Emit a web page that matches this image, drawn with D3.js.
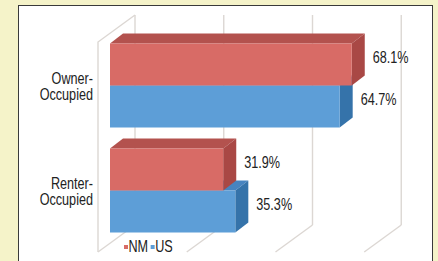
<!DOCTYPE html>
<html lang="en">
<head>
  <meta charset="utf-8"/>
  <title>Owner vs Renter Occupied - NM and US</title>
  <script src="https://d3js.org/d3.v7.min.js"></script>
  <style>
    html, body { margin: 0; padding: 0; background: #f5f3c9; }
    svg { display: block; }
    text { font-family: "Liberation Sans", Arial, sans-serif; fill: #222; }
  </style>
</head>
<body>
<svg id="chart" width="438" height="261"></svg>
<script>
  // chart data
  const categories = ["Owner-Occupied", "Renter-Occupied"];
  const categoryLines = [["Owner-", "Occupied"], ["Renter-", "Occupied"]];
  const seriesNames = ["NM", "US"];
  const nmValues = [68.1, 31.9];
  const usValues = [64.7, 35.3];
  const gridTicks = [0, 25, 50, 75];

  const colors = {
    NM: { front: "#d86b66", top: "#b3524e", side: "#a94845" },
    US: { front: "#5d9ed7", top: "#4784c0", side: "#3573aa" }
  };

  const svg = d3.select("#chart");
  const squeeze = 0.79; // text in the original is condensed
  const fs = 16;

  // panel
  svg.append("rect").attr("x", 18.5).attr("y", 5.5).attr("width", 414).attr("height", 262)
    .attr("fill", "#fff").attr("stroke", "#3a3a3a").attr("stroke-width", 1);

  // 3d depth: front of floor / back wall offsets relative to the bars' front plane
  const front = { dx: -12, dy: 9 };
  const back = { dx: 25, dy: -18 };
  const barDepth = { dx: 13, dy: -10 };

  const x = d3.scaleLinear().domain([0, 100]).range([110, 465]);
  const y = d3.scaleBand().domain(categories).range([33, 243]).paddingInner(0.2).paddingOuter(0.1);
  const ySub = d3.scaleBand().domain(seriesNames).range([0, y.bandwidth()]);

  const top0 = y.range()[0], bot0 = y.range()[1];
  const grid = svg.append("g").attr("fill", "none").attr("stroke", "#dcd7d3").attr("stroke-width", 1.4);

  // back wall gridlines + floor lines
  gridTicks.forEach(t => {
    const bx = x(t) + back.dx, fx = x(t) + front.dx;
    grid.append("line").attr("x1", bx).attr("x2", bx)
      .attr("y1", top0 + back.dy).attr("y2", bot0 + back.dy);
    grid.append("line").attr("x1", bx).attr("y1", bot0 + back.dy)
      .attr("x2", fx).attr("y2", bot0 + front.dy);
  });
  // left wall outline
  const lx = x(0) + front.dx;
  grid.append("path").attr("d",
    `M${lx},${bot0 + front.dy} L${lx},${top0 + front.dy} L${x(0) + back.dx},${top0 + back.dy}`);

  // bars, drawn bottom-first so upper bars hide lower top faces
  const bars = [];
  categories.forEach((c, i) => {
    bars.push({ cat: c, s: "US", v: usValues[i] });
    bars.push({ cat: c, s: "NM", v: nmValues[i] });
  });
  bars.sort((a, b) => (y(b.cat) + ySub(b.s)) - (y(a.cat) + ySub(a.s)));

  const gBars = svg.append("g");
  bars.forEach(d => {
    const x0 = x(0), x1 = x(d.v);
    const y0 = y(d.cat) + ySub(d.s), y1 = y0 + ySub.bandwidth();
    const dx = barDepth.dx, dy = barDepth.dy;
    const col = colors[d.s];
    gBars.append("path").attr("fill", col.top)
      .attr("d", `M${x0},${y0} L${x0 + dx},${y0 + dy} L${x1 + dx},${y0 + dy} L${x1},${y0} Z`);
    gBars.append("path").attr("fill", col.side)
      .attr("d", `M${x1},${y0} L${x1 + dx},${y0 + dy} L${x1 + dx},${y1 + dy} L${x1},${y1} Z`);
    gBars.append("rect").attr("fill", col.front)
      .attr("x", x0).attr("y", y0).attr("width", x1 - x0).attr("height", y1 - y0);
  });

  // value labels
  svg.append("g").selectAll("text").data(bars).join("text")
    .attr("transform", d => `translate(${x(d.v) + barDepth.dx + 8},${y(d.cat) + ySub(d.s) + ySub.bandwidth() / 2 - 7}) scale(${squeeze},1)`)
    .attr("dy", "0.36em")
    .attr("font-size", fs)
    .text(d => d.v.toFixed(1) + "%");

  // category labels
  categories.forEach((c, i) => {
    const cy = y(c) + y.bandwidth() / 2 - 1;
    svg.append("text").attr("transform", `translate(93,${cy}) scale(${squeeze},1)`)
      .attr("text-anchor", "end").attr("font-size", fs)
      .selectAll("tspan").data(categoryLines[i]).join("tspan")
      .attr("x", 0).attr("dy", (t, j) => j === 0 ? "-0.05em" : "1.05em").text(t => t);
  });

  // legend
  const leg = svg.append("g").attr("transform", "translate(124,252)");
  let lxPos = 0;
  seriesNames.forEach(s => {
    leg.append("rect").attr("x", lxPos).attr("y", -7).attr("width", 4).attr("height", 4).attr("fill", colors[s].front);
    const t = leg.append("text").attr("transform", `translate(${lxPos + 4.5},0) scale(${squeeze},1)`)
      .attr("font-size", fs).text(s);
    lxPos += 4.5 + t.node().getComputedTextLength() * squeeze + 2.5;
  });
</script>
</body>
</html>
